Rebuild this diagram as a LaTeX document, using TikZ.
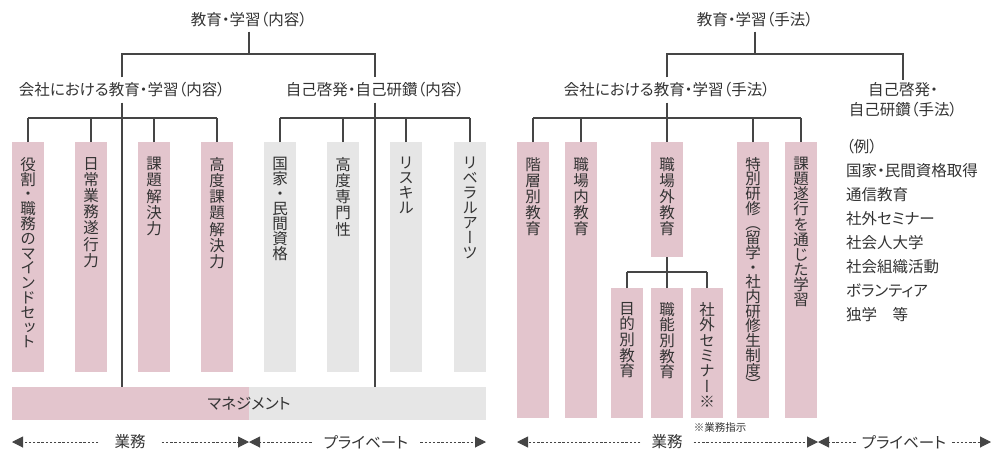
\documentclass[tikz,border=0pt]{standalone}
\usepackage{fontspec}
\setmainfont{Noto Sans CJK JP}[RawFeature=+palt]
\newfontfamily\vertjp{Noto Sans CJK JP}[RawFeature=+vert]
\usetikzlibrary{positioning,arrows.meta}
\definecolor{inkgray}{HTML}{333333}
\definecolor{linegray}{HTML}{454545}
\definecolor{rosebox}{HTML}{E3C5CD}
\definecolor{greybox}{HTML}{E6E6E6}

\begin{document}
\begin{tikzpicture}[x=1pt, y=-1pt,
        every node/.style={text=inkgray, font=\fontsize{15.5}{20}\selectfont},
        tree/.style={draw=linegray, line width=1.2pt},
        rosebar/.style={fill=rosebox, minimum width=32pt, anchor=north, inner sep=0pt},
        greybar/.style={fill=greybox, minimum width=32pt, anchor=north, inner sep=0pt},
        vtext/.style={inner sep=0pt, align=center, font=\vertjp\fontsize{15.5}{#1}\selectfont},
        vtext/.default=16.2,
        spread/.style={draw=linegray, line width=1pt, dash pattern=on 2.4pt off 1.8pt},
        tip/.style={-{Triangle[length=11pt,width=11pt]}, draw=linegray, line width=1pt}
    ]
        \useasboundingbox (0,0) rectangle (1001,458);

        % left: contents
        \node [inner sep=4pt] (tL) at (249,20) {教育・学習（内容）};
        \node [inner ysep=5pt] (sL1) at (122,90) {会社における教育・学習（内容）};
        \node [inner ysep=5pt] (sL2) at (375,90) {自己啓発・自己研鑽（内容）};
        \coordinate (jL) at (249,54);
        \coordinate (jL1) at (122,118);
        \coordinate (jL2) at (375,118);

        \foreach \n/\x/\p/\txt in {
            b1/28/14.8/{役\\割\\・\\職\\務\\の\\マ\\イ\\ン\\ド\\セ\\ッ\\ト},
            b2/91/16.2/{日\\常\\業\\務\\遂\\行\\力},
            b3/154/16.2/{課\\題\\解\\決\\力},
            b4/217/16.2/{高\\度\\課\\題\\解\\決\\力}}
        {
            \node [rosebar, minimum height=230pt] (\n) at (\x,142) {};
            \node [vtext=\p, below=15pt of \n.north] (t\n) {\txt};
        }
        \foreach \n/\x/\p/\txt in {
            g1/280/15/{国\\家\\・\\民\\間\\資\\格},
            g2/343/16.2/{高\\度\\専\\門\\性},
            g3/406/14.8/{リ\\ス\\キ\\ル},
            g4/470/14.9/{リ\\ベ\\ラ\\ル\\ア\\ー\\ツ}}
        {
            \node [greybar, minimum height=230pt] (\n) at (\x,142) {};
            \node [vtext=\p, below=15pt of \n.north] (t\n) {\txt};
        }

        \node [fill=greybox, minimum width=474pt, minimum height=33pt, inner sep=0pt,
            path picture={\fill [rosebox] (path picture bounding box.north west)
                rectangle (path picture bounding box.south);}] (mgmt) at (249,403.5) {マネジメント};

        \draw [tree] (tL) -- (jL);
        \draw [tree] (sL1) |- (jL) -| (sL2);
        \draw [tree] (sL1) -- (sL1 |- mgmt.north);
        \draw [tree] (sL2) -- (sL2 |- mgmt.north);
        \draw [tree] (b1.north |- jL1) -- (b4.north |- jL1);
        \draw [tree] (g1.north |- jL2) -- (g4.north |- jL2);
        \foreach \n in {b1,b2,b3,b4}
            \draw [tree] (\n) -- (\n |- jL1);
        \foreach \n in {g1,g2,g3,g4}
            \draw [tree] (\n) -- (\n |- jL2);

        % right: methods
        \node [inner sep=4pt] (tR) at (755,20) {教育・学習（手法）};
        \node [inner ysep=5pt] (sR1) at (667,90) {会社における教育・学習（手法）};
        \node [inner ysep=3pt, align=center, font=\fontsize{15.5}{20}\selectfont] (sR2) at (903,100)
            {自己啓発・\\自己研鑽（手法）};
        \coordinate (jR) at (755,54);
        \coordinate (jR1) at (667,118);
        \coordinate (jR2) at (667,272);

        \foreach \n/\x/\h/\p/\txt in {
            r1/533/276/16/{階\\層\\別\\教\\育},
            r2/581/276/16/{職\\場\\内\\教\\育},
            r3/667/115/16/{職\\場\\外\\教\\育},
            r4/753/276/14.7/{特\\別\\研\\修\\（\\留\\学\\・\\社\\内\\研\\修\\生\\制\\度\\）},
            r5/801/276/15.1/{課\\題\\遂\\行\\を\\通\\じ\\た\\学\\習}}
        {
            \node [rosebar, minimum height=\h pt] (\n) at (\x,142) {};
            \node [vtext=\p, below=15pt of \n.north] (t\n) {\txt};
        }
        \foreach \n/\x/\p/\txt in {
            s1/627/15.6/{目\\的\\別\\教\\育},
            s2/667/15.6/{職\\能\\別\\教\\育},
            s3/707/15.4/{社\\外\\セ\\ミ\\ナ\\ー\\※}}
        {
            \node [rosebar, minimum height=130pt] (\n) at (\x,288) {};
            \node [vtext=\p, below=14pt of \n.north] (t\n) {\txt};
        }

        \draw [tree] (tR) -- (jR);
        \draw [tree] (sR1) |- (jR) -| (sR2);
        \draw [tree] (sR1) -- (r3);
        \draw [tree] (r1.north |- jR1) -- (r5.north |- jR1);
        \foreach \n in {r1,r2,r4,r5}
            \draw [tree] (\n) -- (\n |- jR1);
        \draw [tree] (r3) -- (jR2);
        \draw [tree] (s1.north |- jR2) -- (s3.north |- jR2);
        \foreach \n in {s1,s2,s3}
            \draw [tree] (\n) -- (\n |- jR2);

        \node [anchor=north west, align=left, inner sep=0pt,
            font=\fontsize{15.5}{24}\selectfont] (ex) at (846,139.5)
            {（例）\\国家・民間資格取得\\通信教育\\社外セミナー\\社会人大学\\社会組織活動\\ボランティア\\独学　等};
        \node [font=\fontsize{10.5}{12}\selectfont] (note) at (720,427) {※業務指示};

        % work / private
        \coordinate (eL0) at (12,442);
        \coordinate (eL1) at (249,442);
        \coordinate (eL2) at (486,442);
        \coordinate (eR0) at (517,442);
        \coordinate (eR1) at (818,442);
        \coordinate (eR2) at (991,442);

        \node [inner xsep=16pt] (wL) at (130,442) {業務};
        \node [inner xsep=12pt] (pL) at (366,442) {プライベート};
        \node [inner xsep=11pt] (wR) at (667,442) {業務};
        \node [inner xsep=6pt] (pR) at (904,442) {プライベート};

        \foreach \a/\b in {wL/eL0,wL/eL1,pL/eL1,pL/eL2,wR/eR0,wR/eR1,pR/eR1,pR/eR2}
            \draw [spread, tip] (\a) -- (\b);
    \end{tikzpicture}
\end{document}
